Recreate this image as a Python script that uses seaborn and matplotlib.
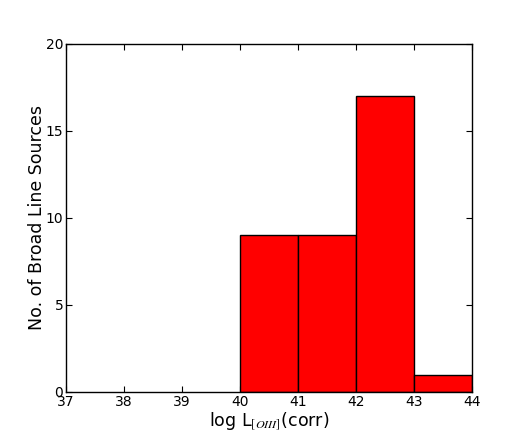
import matplotlib
matplotlib.use('Agg')
import matplotlib.pyplot as plt
import seaborn as sns

# bins of log L[OIII](corr) and number of broad line sources in each
bin_edges = [40, 41, 42, 43, 44]
bin_centers = [40.5, 41.5, 42.5, 43.5]
counts = [9, 9, 17, 1]

sns.set_style('ticks')
plt.rcParams['font.family'] = ['DejaVu Sans']
plt.rcParams['mathtext.fontset'] = 'stix'
plt.rcParams['text.color'] = 'black'
plt.rcParams['axes.labelcolor'] = 'black'
plt.rcParams['xtick.color'] = 'black'
plt.rcParams['ytick.color'] = 'black'

fig = plt.figure(figsize=(5.24, 4.36), dpi=100)
ax = fig.add_axes([0.126, 0.101, 0.775, 0.799])

sns.histplot(x=bin_centers, weights=counts, bins=bin_edges, color='red',
             edgecolor='black', linewidth=1.0, alpha=1.0, ax=ax)

ax.set_xlim(37, 44)
ax.set_ylim(0, 20)
ax.set_xticks(range(37, 45))
ax.set_yticks([0, 5, 10, 15, 20])
ax.tick_params(direction='in', top=True, right=True, length=4, width=0.8,
               labelsize=10, pad=2)
for s in ax.spines.values():
    s.set_visible(True)
    s.set_linewidth(1.0)
    s.set_color('black')

ax.set_xlabel(r'log L$_{[OIII]}$(corr)', fontsize=12.5, labelpad=1)
ax.set_ylabel('No. of Broad Line Sources', fontsize=12.5, labelpad=0)

fig.savefig('out.png', dpi=100)
